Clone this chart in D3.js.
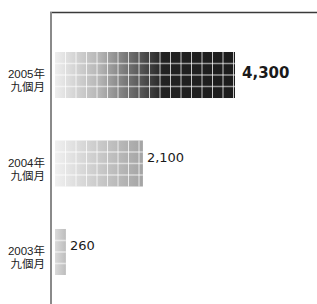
<!DOCTYPE html>
<html>
<head>
<meta charset="utf-8">
<script src="https://cdn.jsdelivr.net/npm/d3@7"></script>
<style>
  body { margin: 0; background: #fff; }
  svg { display: block; }
  .ylab { font-family: "Liberation Sans Narrow", "Liberation Sans", "Noto Sans CJK TC", sans-serif; font-size: 11.5px; fill: #222; }
  .val { font-family: "DejaVu Sans", sans-serif; fill: #1a1a1a; }
</style>
</head>
<body>
<svg id="chart"></svg>
<script>
// data
const years = ['2005年', '2004年', '2003年'];
const periods = ['九個月', '九個月', '九個月'];
const values = [4300, 2100, 260];
const maxValue = 4300;

// shading of each bar, left end -> right end
const shades = [
  [{ o: 0, c: '#eeeeee' }, { o: 0.25, c: '#b4b4b4' }, { o: 0.6, c: '#222222' }, { o: 1, c: '#1c1c1c' }],
  [{ o: 0, c: '#f0f0f0' }, { o: 1, c: '#a4a4a4' }],
  [{ o: 0, c: '#dadada' }, { o: 1, c: '#bdbdbd' }]
];

const w = 317, h = 304;
const svg = d3.select('#chart').attr('width', w).attr('height', h);

const x = d3.scaleLinear().domain([0, maxValue]).range([55, 235]);
const y = d3.scaleBand().domain(years).range([52, 275]).paddingInner(0.48).paddingOuter(0);

const cellW = 10.5;
const rows = 4;

const defs = svg.append('defs');
shades.forEach((s, i) => {
  const g = defs.append('linearGradient').attr('id', 'shade' + i)
    .attr('x1', 0).attr('x2', 1).attr('y1', 0).attr('y2', 0);
  s.forEach(st => g.append('stop').attr('offset', st.o).attr('stop-color', st.c));
});

// frame: top rule and left axis
svg.append('line')
  .attr('x1', 50).attr('x2', 317).attr('y1', 12.5).attr('y2', 12.5)
  .attr('stroke', '#3a3a3a').attr('stroke-width', 1.4);
svg.append('line')
  .attr('x1', 51).attr('x2', 51).attr('y1', 12).attr('y2', h)
  .attr('stroke', '#8a8a8a').attr('stroke-width', 2);

const bars = svg.selectAll('g.bar')
  .data(years)
  .join('g')
  .attr('class', 'bar');

bars.append('rect')
  .attr('x', x(0))
  .attr('y', d => y(d))
  .attr('width', (d, i) => x(values[i]) - x(0))
  .attr('height', y.bandwidth())
  .attr('fill', (d, i) => `url(#shade${i})`);

// grid of cells over each bar
bars.each(function (d, i) {
  const g = d3.select(this);
  const x0 = x(0), x1 = x(values[i]);
  const top = y(d), bh = y.bandwidth();
  const cols = d3.range(x0 + cellW, x1 - 1, cellW);
  g.selectAll('line.v')
    .data(cols)
    .join('line')
    .attr('x1', c => c).attr('x2', c => c)
    .attr('y1', top).attr('y2', top + bh)
    .attr('stroke', '#fff').attr('stroke-opacity', 0.75).attr('stroke-width', 1);
  g.selectAll('line.h')
    .data(d3.range(1, rows))
    .join('line')
    .attr('x1', x0).attr('x2', x1)
    .attr('y1', r => top + r * bh / rows).attr('y2', r => top + r * bh / rows)
    .attr('stroke', '#fff').attr('stroke-opacity', 0.55).attr('stroke-width', 1.6);
});

// category labels
const labels = svg.selectAll('text.ylab')
  .data(years)
  .join('text')
  .attr('class', 'ylab')
  .attr('text-anchor', 'end');
labels.append('tspan')
  .attr('x', 45)
  .attr('y', d => y(d) + y.bandwidth() / 2 + 3)
  .text(d => d);
labels.append('tspan')
  .attr('x', 45)
  .attr('y', d => y(d) + y.bandwidth() / 2 + 16)
  .text((d, i) => periods[i]);

// value labels
const fmt = d3.format(',');
svg.selectAll('text.val')
  .data(values)
  .join('text')
  .attr('class', 'val')
  .attr('x', (d, i) => x(d) + (i === 0 ? 7 : 4))
  .attr('y', (d, i) => y(years[i]) + y.bandwidth() / 2 + (i === 0 ? 3 : -2))
  .style('font-size', (d, i) => i === 0 ? '15px' : '13px')
  .style('font-weight', (d, i) => i === 0 ? 'bold' : 'normal')
  .text(d => fmt(d));
</script>
</body>
</html>
